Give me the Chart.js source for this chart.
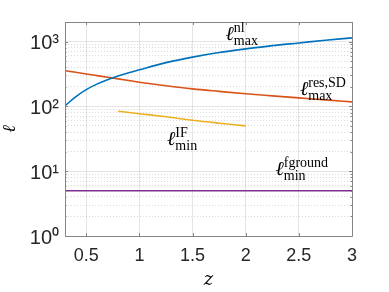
<!DOCTYPE html>
<html>
<head>
<meta charset="utf-8">
<script src="https://cdn.jsdelivr.net/npm/chart.js@4/dist/chart.umd.min.js"></script>
<style>
  html, body { margin: 0; padding: 0; background: #fff; }
  #chart-wrap { width: 389px; height: 292px; }
</style>
</head>
<body>
<div id="chart-wrap"><canvas id="ellChart" width="389" height="292"></canvas></div>
<script>
// values
const zValues = [0.3, 0.4, 0.5, 0.6, 0.7, 0.8, 0.9, 1.0, 1.25, 1.5, 1.75, 2.0, 2.25, 2.5, 2.75, 3.0];
const ellMaxNl = [102, 140, 181, 220, 258, 294, 330, 367, 472, 575, 676, 770, 865, 950, 1045, 1140];
const ellMaxResSD = [355, 335, 316, 298, 281, 265, 250, 236, 208, 186, 170, 156, 145, 135, 126, 117];
const zIF = [0.8, 1.0, 1.25, 1.5, 1.75, 2.0];
const ellMinIF = [84, 77, 69, 61, 55, 50];
const zFground = [0.3, 3.0];
const ellMinFground = [5, 5];

const xTicks = [0.5, 1, 1.5, 2, 2.5, 3];
const yMajorTicks = [1, 10, 100, 1000];
const yMajorLabels = ['10⁰', '10¹', '10²', '10³'];
const yMantissas = [1, 2, 3, 4, 5, 6, 7, 8, 9];

// curve labels: anchor of the ℓ in data coordinates
const curveLabels = [
    { z: 1.81, ell: 1040, sup: 'nl', sub: 'max' },
    { z: 2.51, ell: 152, sup: 'res,SD', sub: 'max' },
    { z: 1.26, ell: 25.6, sup: 'IF', sub: 'min' },
    { z: 2.28, ell: 8.8, sup: 'fground', sub: 'min' }
];

const X_MIN = 0.3, X_MAX = 3, Y_MIN = 1, Y_MAX = 2000;
const colors = ['#0072BD', '#D95319', '#EDB120', '#7E2F8E'];

function toPoints(xs, ys) {
    return xs.map((x, i) => ({ x: x, y: ys[i] }));
}

const yTicks = [];
yMajorTicks.forEach(d => yMantissas.forEach(m => { if (d * m <= Y_MAX) yTicks.push(d * m); }));

function isMajorY(v) {
    return yMajorTicks.some(t => Math.abs(t - v) < 1e-9);
}

const boxPlugin = {
    id: 'boxPlugin',
    afterDatasetsDraw(chart) {
        const { ctx, chartArea: a, scales } = chart;
        ctx.save();
        ctx.strokeStyle = '#858585';
        ctx.lineWidth = 1;
        ctx.beginPath();
        ctx.rect(Math.round(a.left) + 0.5, Math.round(a.top) + 0.5,
                 Math.round(a.right - a.left), Math.round(a.bottom - a.top));
        // inward tick marks
        xTicks.forEach(v => {
            const px = Math.round(scales.x.getPixelForValue(v)) + 0.5;
            ctx.moveTo(px, a.bottom); ctx.lineTo(px, a.bottom - 3);
            ctx.moveTo(px, a.top); ctx.lineTo(px, a.top + 3);
        });
        yTicks.forEach(v => {
            const py = Math.round(scales.y.getPixelForValue(v)) + 0.5;
            const len = isMajorY(v) ? 3 : 1.5;
            ctx.moveTo(a.left, py); ctx.lineTo(a.left + len, py);
            ctx.moveTo(a.right, py); ctx.lineTo(a.right - len, py);
        });
        ctx.stroke();

        // curve labels
        ctx.fillStyle = '#000';
        ctx.textBaseline = 'alphabetic';
        ctx.textAlign = 'left';
        curveLabels.forEach(l => {
            const x = scales.x.getPixelForValue(l.z);
            const y = scales.y.getPixelForValue(l.ell);
            ctx.font = 'italic 20px "DejaVu Serif"';
            ctx.fillText('ℓ', x, y);
            const w = ctx.measureText('ℓ').width;
            ctx.font = '14px "Liberation Serif"';
            ctx.fillText(l.sup, x + w, y - 8);
            ctx.fillText(l.sub, x + w, y + 5);
        });
        ctx.restore();
    }
};

function lineSet(label, xs, ys, color) {
    return {
        label: label,
        data: toPoints(xs, ys),
        borderColor: color,
        backgroundColor: color,
        borderWidth: 1.6,
        pointRadius: 0,
        cubicInterpolationMode: 'monotone',
        fill: false
    };
}

new Chart(document.getElementById('ellChart').getContext('2d'), {
    type: 'line',
    data: {
        datasets: [
            lineSet('ℓ max nl', zValues, ellMaxNl, colors[0]),
            lineSet('ℓ max res,SD', zValues, ellMaxResSD, colors[1]),
            lineSet('ℓ min IF', zIF, ellMinIF, colors[2]),
            lineSet('ℓ min fground', zFground, ellMinFground, colors[3])
        ]
    },
    options: {
        responsive: false,
        animation: false,
        layout: { padding: { top: 22, right: 37, left: 0, bottom: 0 } },
        plugins: { legend: { display: false }, tooltip: { enabled: false } },
        scales: {
            x: {
                type: 'linear',
                min: X_MIN,
                max: X_MAX,
                afterBuildTicks: s => { s.ticks = xTicks.map(v => ({ value: v })); },
                afterFit: s => { s.height = 56; },
                ticks: {
                    color: '#262626',
                    font: { family: '"Liberation Sans", Arial', size: 18 },
                    padding: 9,
                    maxRotation: 0,
                    autoSkip: false,
                    callback: v => String(v)
                },
                grid: { color: 'rgba(38,38,38,0.12)', drawTicks: false },
                border: { display: false },
                title: {
                    display: true,
                    text: 'z',
                    color: '#000',
                    font: { family: '"DejaVu Serif"', style: 'italic', size: 18 },
                    padding: { top: 0, bottom: 1 }
                }
            },
            y: {
                type: 'logarithmic',
                min: Y_MIN,
                max: Y_MAX,
                afterBuildTicks: s => { s.ticks = yTicks.map(v => ({ value: v, major: isMajorY(v) })); },
                afterFit: s => { s.width = 65; },
                ticks: {
                    color: '#262626',
                    font: { family: '"Liberation Sans", Arial', size: 20 },
                    padding: 6,
                    labelOffset: 2,
                    autoSkip: false,
                    callback: v => {
                        const i = yMajorTicks.findIndex(t => Math.abs(t - v) < 1e-9);
                        return i >= 0 ? yMajorLabels[i] : '';
                    }
                },
                grid: {
                    drawTicks: false,
                    color: c => (c.tick && !isMajorY(c.tick.value)) ? 'rgba(38,38,38,0.17)' : 'rgba(38,38,38,0.12)'
                },
                border: {
                    display: false,
                    dash: c => (c.tick && !isMajorY(c.tick.value)) ? [1, 2] : []
                },
                title: {
                    display: true,
                    text: 'ℓ',
                    color: '#000',
                    font: { family: '"DejaVu Serif"', style: 'italic', size: 18 },
                    padding: { top: 0, bottom: 0 }
                }
            }
        }
    },
    plugins: [boxPlugin]
});
</script>
</body>
</html>
